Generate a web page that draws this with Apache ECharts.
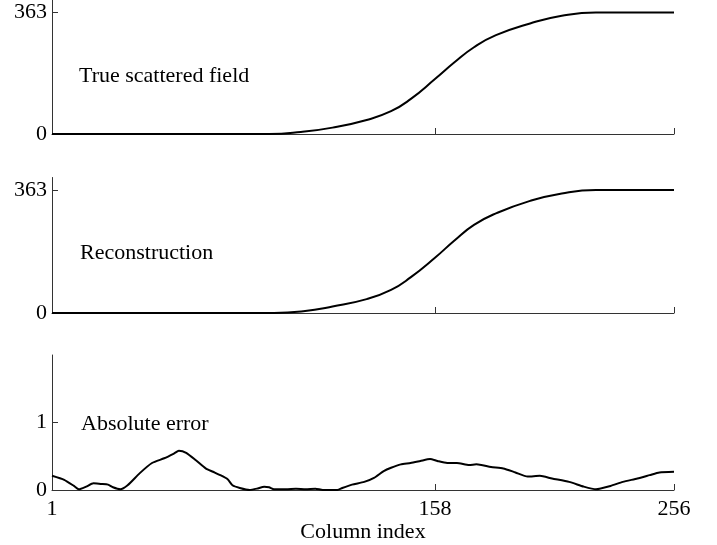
<!DOCTYPE html>
<html>
<head>
<meta charset="utf-8">
<script src="https://cdn.jsdelivr.net/npm/echarts@6/dist/echarts.min.js"></script>
<style>
  html, body { margin: 0; padding: 0; background: #fff; }
  #chart { width: 717px; height: 545px; }
</style>
</head>
<body>
<div id="chart"></div>
<script>
// Column positions (1..256) along the row
const xTickLabels = [1, 158, 256];
const xTickMarks = [158, 256];

// True scattered field profile
const trueCols = [1, 90, 103, 116, 130, 140, 148, 158, 166, 174, 183, 197, 210, 224, 256];
const trueVals = [0, 0, 6, 19, 42, 68, 104, 164, 214, 259, 295, 330, 353, 363, 363];

// Reconstructed profile
const recCols = [1, 92, 104, 116, 130, 140, 148, 158, 166, 174, 183, 197, 210, 224, 256];
const recVals = [0, 0, 5, 19, 41, 68, 105, 163, 214, 260, 294, 331, 353, 363, 363];

// Absolute error between the two
const errCols = [1, 6, 10, 12, 15, 18, 21, 24, 26, 29, 32, 37, 42, 47, 51, 53, 56, 60, 64, 67,
  70, 73, 75, 78, 82, 85, 88, 90, 92, 97, 101, 105, 109, 112, 118, 120, 124, 129, 133, 137,
  140, 144, 148, 152, 156, 159, 163, 167, 172, 175, 181, 186, 191, 196, 201, 206, 213, 219,
  224, 230, 235, 241, 246, 250, 256];
const errVals = [0.21, 0.15, 0.06, 0.01, 0.05, 0.10, 0.09, 0.08, 0.04, 0.01, 0.07, 0.25, 0.40, 0.47, 0.54, 0.58, 0.55, 0.44, 0.32, 0.27,
  0.22, 0.16, 0.07, 0.03, 0.00, 0.02, 0.05, 0.04, 0.01, 0.01, 0.02, 0.01, 0.02, 0.00, 0.00, 0.03, 0.08, 0.12, 0.18, 0.28,
  0.33, 0.38, 0.40, 0.43, 0.46, 0.43, 0.40, 0.40, 0.37, 0.38, 0.34, 0.32, 0.26, 0.20, 0.21, 0.17, 0.12, 0.05,
  0.01, 0.06, 0.12, 0.17, 0.22, 0.26, 0.27];

const fieldTicks = [0, 363];
const errTicks = [0, 1];
const panelTitles = ['True scattered field', 'Reconstruction', 'Absolute error'];
const xName = 'Column index';

const FONT = 'Liberation Serif';
const FONT_SIZE = 22;
const AXIS_COLOR = '#333';

function pairs(xs, ys) { return xs.map((x, i) => [x, ys[i]]); }

function xAxisFor(gridIndex, withLabels) {
  return {
    type: 'value', gridIndex, min: 1, max: 256,
    axisLine: { show: true, lineStyle: { color: AXIS_COLOR, width: 1 } },
    axisTick: { show: true, inside: true, length: 6, customValues: xTickMarks, lineStyle: { color: AXIS_COLOR } },
    axisLabel: withLabels
      ? { show: true, customValues: xTickLabels, margin: 8, fontFamily: FONT, fontSize: FONT_SIZE, color: '#000' }
      : { show: false },
    splitLine: { show: false },
    name: withLabels ? xName : '',
    nameLocation: 'middle', nameGap: 30,
    nameTextStyle: { fontFamily: FONT, fontSize: FONT_SIZE, color: '#000' }
  };
}

function yAxisFor(gridIndex, max, ticks) {
  return {
    type: 'value', gridIndex, min: 0, max,
    axisLine: { show: true, lineStyle: { color: AXIS_COLOR, width: 1 } },
    axisTick: { show: true, inside: true, length: 6, customValues: ticks, lineStyle: { color: AXIS_COLOR } },
    axisLabel: { show: true, customValues: ticks, margin: 5, fontFamily: FONT, fontSize: FONT_SIZE, color: '#000' },
    splitLine: { show: false }
  };
}

function lineSeries(idx, data, smooth) {
  return {
    type: 'line', xAxisIndex: idx, yAxisIndex: idx, data,
    showSymbol: false, smooth,
    lineStyle: { color: '#000', width: 2 },
    silent: true, animation: false
  };
}

const chart = echarts.init(document.getElementById('chart'), null, { renderer: 'canvas' });
const titleFont = FONT_SIZE + 'px "' + FONT + '"';
chart.setOption({
  animation: false,
  backgroundColor: '#fff',
  grid: [
    { left: 52, right: 43, top: 0, height: 134 },
    { left: 52, right: 43, top: 177.5, height: 135.5 },
    { left: 52, right: 43, top: 355, height: 135 }
  ],
  xAxis: [xAxisFor(0, false), xAxisFor(1, false), xAxisFor(2, true)],
  yAxis: [yAxisFor(0, 400, fieldTicks), yAxisFor(1, 400, fieldTicks), yAxisFor(2, 2, errTicks)],
  series: [
    lineSeries(0, pairs(trueCols, trueVals), 0.5),
    lineSeries(1, pairs(recCols, recVals), 0.5),
    lineSeries(2, pairs(errCols, errVals), 0.2)
  ],
  graphic: [
    { type: 'text', x: 79, y: 76, style: { text: panelTitles[0], font: titleFont, fill: '#000', verticalAlign: 'middle' } },
    { type: 'text', x: 80, y: 253, style: { text: panelTitles[1], font: titleFont, fill: '#000', verticalAlign: 'middle' } },
    { type: 'text', x: 81, y: 424, style: { text: panelTitles[2], font: titleFont, fill: '#000', verticalAlign: 'middle' } }
  ]
});
</script>
</body>
</html>
